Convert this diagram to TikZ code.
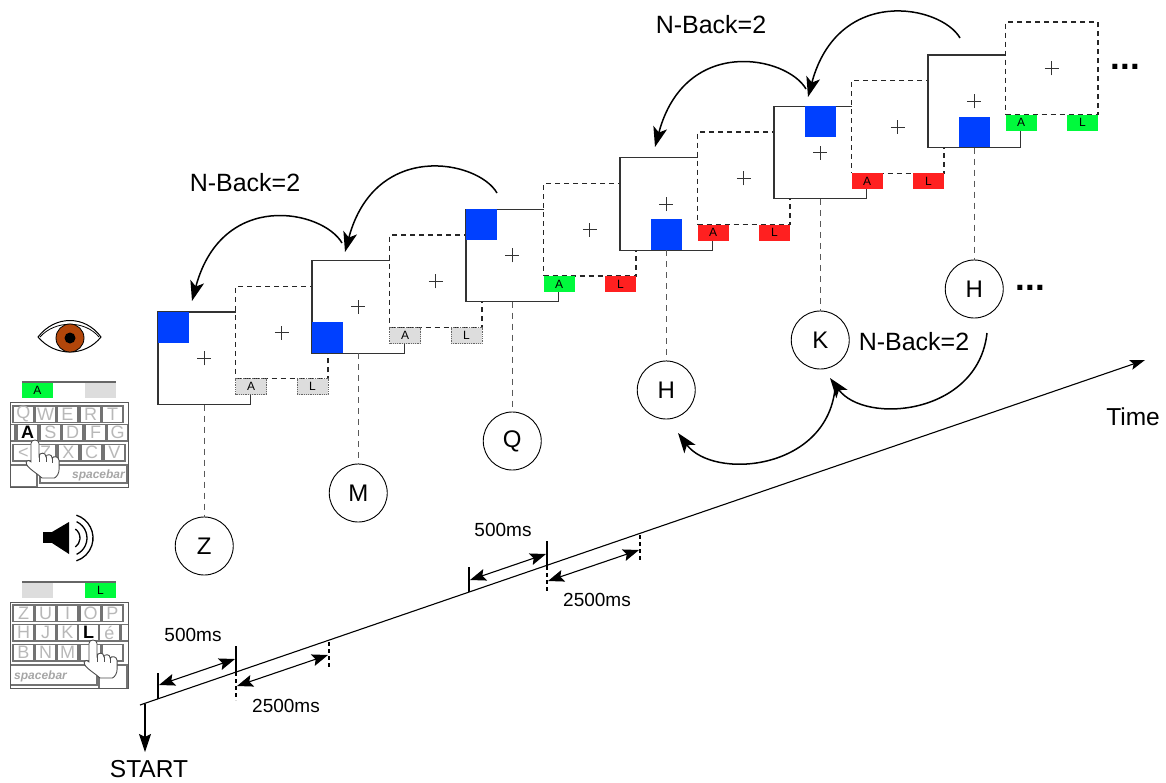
\documentclass[tikz,border=0pt]{standalone}
\usepackage{fontspec}
\setmainfont{Liberation Sans}
\usetikzlibrary{arrows.meta}

\definecolor{cueblue}{RGB}{0,64,255}
\definecolor{okgreen}{RGB}{0,250,60}
\definecolor{errred}{RGB}{255,32,32}
\definecolor{idlegray}{RGB}{221,221,221}
\definecolor{irisbrown}{RGB}{178,70,10}

% pointing hand, tip of the index finger at (#1,#2)
\newcommand{\pointerhand}[2]{%
  \begin{scope}[shift={(#1,#2)}, scale=1.15]
    \filldraw[fill=white, draw=black!70, line width=0.9pt]
      (-3.5,19) -- (-3.5,3) .. controls (-3.5,-1) and (3.5,-1) .. (3.5,3) -- (3.5,14)
      .. controls (4,10.5) and (9.5,10.5) .. (9.5,14.5)
      .. controls (10,12) and (15,12) .. (15,16)
      .. controls (15.5,13.5) and (21,14) .. (21,18)
      -- (21,25) .. controls (21,29) and (19,32) .. (17,33)
      -- (6,33) .. controls (3,30) and (-4,26) .. (-7,22)
      .. controls (-9,19) and (-6,16) .. (-3.5,19) -- cycle;
    \draw[black!70, line width=0.7pt] (3.5,14) -- (3.5,19) (9.5,14.5) -- (9.5,19) (15,16) -- (15,20);
  \end{scope}}

\begin{document}
\begin{tikzpicture}[x=1pt, y=-1pt,
  stim/.style={draw=black!80, line width=1.1pt, fill=white, minimum width=92.5pt,
    minimum height=92.5pt, inner sep=0pt, outer sep=0pt, anchor=north west},
  gapbox/.style={stim, draw=black!85, dash pattern=on 5pt off 4pt},
  cue/.style={fill=cueblue, minimum width=30.8pt, minimum height=30.8pt, inner sep=0pt,
    outer sep=0pt, anchor=north west},
  resp/.style={minimum width=31pt, minimum height=16pt, inner sep=0pt, outer sep=0pt,
    densely dotted, line width=0.8pt, font=\fontsize{12}{12}\selectfont},
  fixline/.style={draw=black!80, line width=0.9pt},
  letter/.style={circle, draw=black, line width=0.9pt, fill=white, minimum size=58pt,
    inner sep=0pt, font=\fontsize{24}{24}\selectfont},
  drop/.style={draw=black!65, line width=1.1pt, dash pattern=on 6pt off 5pt},
  nback/.style={-{Stealth[length=20pt,width=14pt,inset=5pt]}, line width=1.5pt},
  big/.style={font=\fontsize{25}{25}\selectfont, inner sep=0pt},
  ms/.style={font=\fontsize{19}{19}\selectfont, inner sep=0pt},
  axis/.style={line width=1.1pt},
  tickmark/.style={line width=1.1pt},
  tickdash/.style={line width=1.1pt, dash pattern=on 4pt off 3pt},
  span/.style={{Stealth[length=16pt,width=12pt,inset=3pt]}-{Stealth[length=16pt,width=12pt,inset=3pt]}, line width=1.1pt},
  key/.style={draw=black!55, line width=1.1pt, fill=white, minimum width=21pt,
    minimum height=16.5pt, inner sep=0pt, outer sep=0pt, anchor=north west,
    text=black!28, font=\fontsize{18}{18}\selectfont},
  keyon/.style={key, text=black, font=\fontsize{18}{18}\selectfont\bfseries},
  spc/.style={text=black!35, inner sep=0pt, font=\fontsize{12}{12}\selectfont\bfseries\itshape},
  kbframe/.style={draw=black!65, line width=0.9pt},
  bar/.style={draw=black!60, line width=1.5pt}
]
\useasboundingbox (0,0) rectangle (1166,782);

% ---------- stimulus frames and blank intervals ----------
\foreach \i/\sx/\sy/\dx/\dy/\bc/\br/\fa/\fl/\dc in {
  0/158/312/235.5/286.3/0/0/idlegray/idlegray/black!60,
  1/312/260.6/389.5/235/0/2/idlegray/idlegray/black!60,
  2/466/209.2/543.5/183.5/0/0/okgreen/errred/none,
  3/620/157.8/697.5/132/1/2/errred/errred/none,
  4/774/106.4/851.5/80.7/1/0/errred/errred/none,
  5/928/55/1005.5/22/1/2/okgreen/okgreen/none}
{
  \node[stim] (s\i) at (\sx,\sy) {};
  \node[cue] (b\i) at ([shift={(\bc*30.83,\br*30.83)}]s\i.north west) {};
  \draw[fixline] ([xshift=-7pt]s\i.center) -- ([xshift=7pt]s\i.center)
                 ([yshift=-7pt]s\i.center) -- ([yshift=7pt]s\i.center);
  \node[gapbox] (d\i) at (\dx,\dy) {};
  \draw[fixline] ([xshift=-7pt]d\i.center) -- ([xshift=7pt]d\i.center)
                 ([yshift=-7pt]d\i.center) -- ([yshift=7pt]d\i.center);
  \node[resp, fill=\fa, draw=\dc, anchor=north west] (ra\i) at (d\i.south west) {A};
  \node[resp, fill=\fl, draw=\dc, anchor=north east] (rl\i) at (d\i.south east) {L};
}

% ---------- spoken letters ----------
\foreach \i/\cx/\cy/\t in {0/204.25/546/Z, 1/358.25/493/M, 2/512.25/441/Q,
                            3/666.25/390/H, 4/820.25/340/K, 5/974.25/289/H}
{
  \node[letter] (c\i) at (\cx,\cy) {\t};
  \draw[drop] (s\i.south) -- (c\i.north);
}

\node[inner sep=0pt, anchor=base west, font=\fontsize{35}{35}\selectfont\bfseries] (dotsA) at (1110.5,69.5) {...};
\node[inner sep=0pt, anchor=base west, font=\fontsize{35}{35}\selectfont\bfseries] (dotsB) at (1015.5,290.5) {...};

% ---------- n-back arrows ----------
\coordinate (pA0) at (497,193);   \coordinate (pA1) at (345,252);
\coordinate (pB0) at (342,243);   \coordinate (pB1) at (192,301);
\coordinate (pC0) at (960,38);    \coordinate (pC1) at (808,97);
\coordinate (pD0) at (806,89);    \coordinate (pD1) at (655,147);
\draw[nback] (pA0) .. controls +(-19,-33) and +(30,-112) .. (pA1);
\draw[nback] (pB0) .. controls +(-19,-33) and +(30,-112) .. (pB1);
\draw[nback] (pC0) .. controls +(-19,-33) and +(30,-112) .. (pC1);
\draw[nback] (pD0) .. controls +(-19,-33) and +(30,-112) .. (pD1);

\coordinate (aE0) at (987,333);   \coordinate (aE1) at (830,378);
\coordinate (aF0) at (835,389);   \coordinate (aF1) at (678,433);
\draw[nback] (aE0) .. controls +(-9,82) and +(35,47) .. (aE1);
\draw[nback] (aF0) .. controls +(-9,82) and +(35,47) .. (aF1);

\node[big] (nbv1) at (245,183) {N-Back=2};
\node[big] (nbv2) at (711,25) {N-Back=2};
\node[big] (nba) at (914,342) {N-Back=2};

% ---------- time axis ----------
\coordinate (t0) at (140,705);
\coordinate (t1) at (1145,360);
\draw[axis, -{Stealth[length=15pt,width=10pt,inset=3pt]}] (t0) -- (t1);
\node[font=\fontsize{24.5}{24.5}\selectfont, inner sep=0pt] (time) at (1133,417) {Time};

\coordinate (st0) at (145,704);
\coordinate (st1) at (145,752);
\draw[axis, -{Stealth[length=18pt,width=12pt,inset=3pt]}] (st0) -- (st1);
\node[font=\fontsize{24.5}{24.5}\selectfont, inner sep=0pt] (start) at (149,769) {START};

\draw[tickmark] (158,673) -- (158,699);
\draw[tickmark] (236,646) -- (236,672);
\draw[tickdash] (236,672) -- (236,700);
\draw[tickdash] (329,642) -- (329,668);
\draw[tickmark] (469,567) -- (469,592);
\draw[tickmark] (547,541) -- (547,566);
\draw[tickdash] (547,566) -- (547,592);
\draw[tickdash] (640,535) -- (640,562);

\coordinate (m1a) at (159,685);  \coordinate (m1b) at (235,659);
\coordinate (m2a) at (237,686);  \coordinate (m2b) at (328,655);
\coordinate (m3a) at (470,580);  \coordinate (m3b) at (546,554);
\coordinate (m4a) at (548,581);  \coordinate (m4b) at (639,550);
\draw[span] (m1a) -- (m1b);
\draw[span] (m2a) -- (m2b);
\draw[span] (m3a) -- (m3b);
\draw[span] (m4a) -- (m4b);
\node[ms] (ms1) at (193,635) {500ms};
\node[ms] (ms2) at (286,706) {2500ms};
\node[ms] (ms3) at (503,530) {500ms};
\node[ms] (ms4) at (597,600) {2500ms};

% ---------- eye ----------
\filldraw[fill=white, draw=black, line width=1pt]
  (38,337) .. controls (55,315) and (85,315) .. (101,337)
  .. controls (85,357) and (55,357) .. (38,337) -- cycle;
\draw[black, line width=0.8pt] (40,337) .. controls (55,320) and (85,320) .. (99,337);
\filldraw[fill=irisbrown, draw=black, line width=0.8pt] (70,338) circle[radius=14];
\fill[black] (70,338) circle[radius=5.5];

% ---------- loudspeaker ----------
\fill[black] (43,532) rectangle (52,543);
\fill[black] (52,532) -- (69,522) -- (69,554) -- (52,543) -- cycle;
\draw[line width=1.3pt] (69,538) ++(-55:11) arc[start angle=-55, end angle=55, radius=11];
\draw[line width=1.3pt] (69,538) ++(-65:18) arc[start angle=-65, end angle=65, radius=18];
\draw[line width=1.3pt] (69,538) ++(-72:24) arc[start angle=-72, end angle=72, radius=24];

% ---------- response keyboard for the visual task ----------
\node[resp, fill=okgreen, draw=none, anchor=north west, minimum height=15pt] (pa1) at (22,383) {A};
\node[resp, fill=idlegray, draw=none, anchor=north west, minimum height=15pt] (pl1) at (85,383) {};
\draw[bar] (22,382) -- (116,382);
\begin{scope}
  \clip (10,402) rectangle (128,487);
  \foreach \x/\t [count=\n] in {13/Q,35/W,57/E,80/R,102/T}
    \node[key] (kq\n) at (\x,406) {\t};
  \node[key] (ka0) at (-6,424.5) {};
  \node[keyon] (ka1) at (17,424.5) {A};
  \foreach \x/\t [count=\n from 2] in {40/S,62/D,85/F,107/G}
    \node[key] (ka\n) at (\x,424.5) {\t};
  \foreach \x/\t [count=\n] in {13/<,35/Z,58/X,81/C,104/V}
    \node[key] (kz\n) at (\x,444.5) {\t};
  \node[key, minimum width=29pt, minimum height=22pt] (ks0) at (8,465) {};
  \node[key, minimum width=87pt, minimum height=18pt] (ks1) at (40,465) {};
  \node[spc, anchor=east] (ksp1) at (125,475) {spacebar};
\end{scope}
\draw[kbframe] (10,402) rectangle (128,487);
\pointerhand{35}{440}

% ---------- response keyboard for the auditory task ----------
\node[resp, fill=idlegray, draw=none, anchor=north west, minimum height=15pt] (pa2) at (22,583) {};
\node[resp, fill=okgreen, draw=none, anchor=north west, minimum height=15pt] (pl2) at (85,583) {L};
\draw[bar] (22,582) -- (116,582);
\begin{scope}
  \clip (10,602) rectangle (128,688);
  \foreach \x/\t [count=\n] in {13/Z,35/U,57/I,80/O,102/P}
    \node[key] (kw\n) at (\x,605) {\t};
  \foreach \x/\t [count=\n] in {13/H,35/J,57/K}
    \node[key] (kh\n) at (\x,624.5) {\t};
  \node[keyon] (kh4) at (78,624.5) {L};
  \node[key] (kh5) at (99,624.5) {é};
  \node[key] (kh6) at (121,624.5) {};
  \foreach \x/\t [count=\n] in {13/B,35/N,57/M,80/;,102/{}}
    \node[key] (kb\n) at (\x,644.5) {\t};
  \node[key, minimum width=87pt, minimum height=20pt] (kt0) at (10,665) {};
  \node[key, minimum width=28pt, minimum height=25pt] (kt1) at (99,665) {};
  \node[spc, anchor=west] (ksp2) at (14,676) {spacebar};
\end{scope}
\draw[kbframe] (10,602) rectangle (128,688);
\pointerhand{93}{640}

\end{tikzpicture}
\end{document}
